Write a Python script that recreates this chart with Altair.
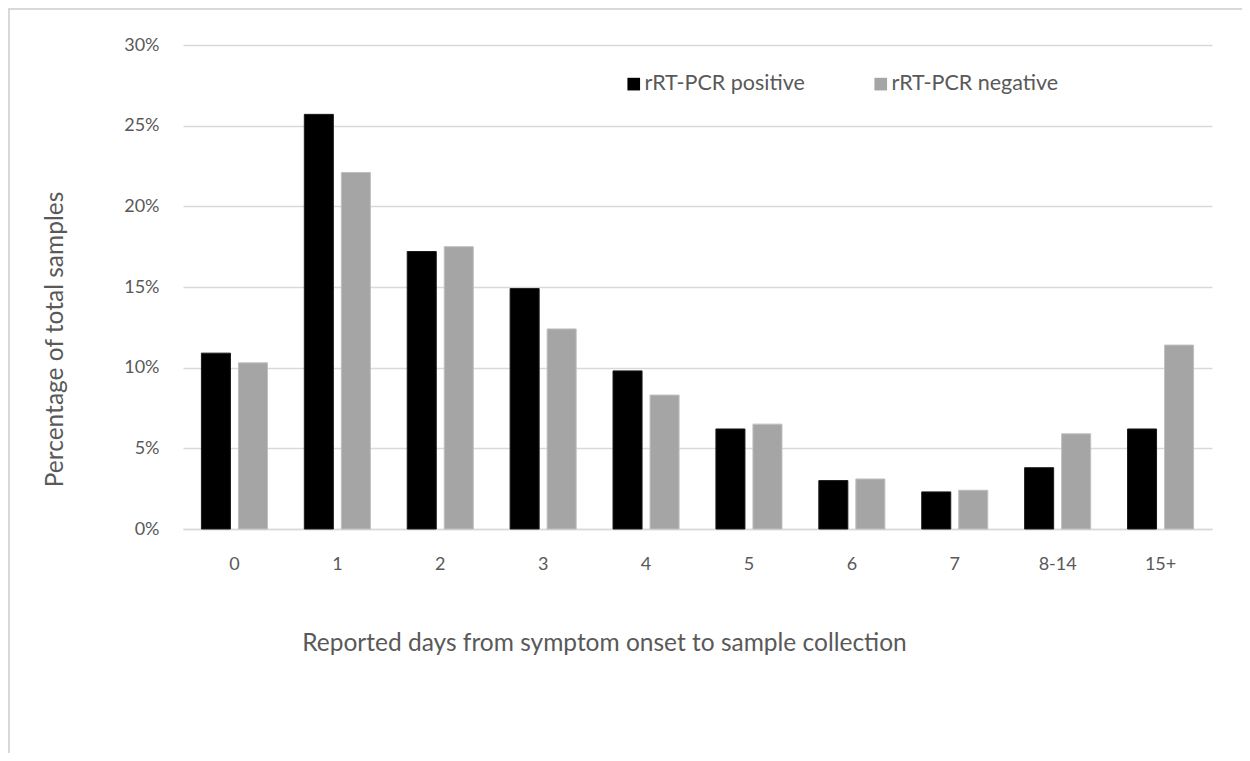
import altair as alt
import pandas as pd

categories = ["0", "1", "2", "3", "4", "5", "6", "7", "8-14", "15+"]
positive = [10.9, 25.7, 17.2, 14.9, 9.8, 6.2, 3.0, 2.3, 3.8, 6.2]
negative = [10.3, 22.1, 17.5, 12.4, 8.3, 6.5, 3.1, 2.4, 5.9, 11.4]
series = ["rRT-PCR positive", "rRT-PCR negative"]
colors = ["#000000", "#A5A5A5"]

rows = []
for c, p, n in zip(categories, positive, negative):
    rows.append({"day": c, "series": series[0], "value": p / 100})
    rows.append({"day": c, "series": series[1], "value": n / 100})
df = pd.DataFrame(rows)

FONT = "Lato"
TXT = "#595959"

bars = alt.Chart(df).mark_bar(strokeWidth=1).encode(
    x=alt.X("day:N", sort=categories,
            scale=alt.Scale(paddingInner=0.358, paddingOuter=0.179),
            axis=alt.Axis(title="Reported days from symptom onset to sample collection",
                          labelAngle=0, ticks=False, domain=True, domainColor="#D9D9D9",
                          domainWidth=1.5, labelPadding=26,
                          titleX=421, titleY=114, titleAlign="center", titleBaseline="middle",
                          labelFontSize=18, titleFontSize=24.5,
                          labelColor=TXT, titleColor=TXT, labelFont=FONT, titleFont=FONT,
                          titleFontWeight="normal")),
    xOffset=alt.XOffset("series:N", sort=series,
                        scale=alt.Scale(paddingInner=0.216, paddingOuter=0)),
    y=alt.Y("value:Q", scale=alt.Scale(domain=[0, 0.3]),
            axis=alt.Axis(title="Percentage of total samples", format=".0%",
                          values=[0, 0.05, 0.1, 0.15, 0.2, 0.25, 0.3],
                          ticks=False, domain=False, gridColor="#D9D9D9", gridWidth=1.5,
                          labelPadding=24,
                          titleX=-128, titleY=294, titleAngle=270, titleAlign="center",
                          titleBaseline="middle",
                          labelFontSize=18, titleFontSize=24.5,
                          labelColor=TXT, titleColor=TXT, labelFont=FONT, titleFont=FONT,
                          titleFontWeight="normal")),
    color=alt.Color("series:N", sort=series,
                    scale=alt.Scale(domain=series, range=colors),
                    legend=alt.Legend(title=None, orient="none", legendX=440, legendY=28,
                                      direction="horizontal", symbolType="square",
                                      symbolSize=160, symbolStrokeWidth=0,
                                      labelFontSize=21.5, labelColor=TXT, labelFont=FONT,
                                      columnPadding=65, labelOffset=0, labelLimit=400)),
    stroke=alt.Stroke("series:N", sort=series,
                      scale=alt.Scale(domain=series, range=["#1a1a1a", "#BFBFBF"]),
                      legend=None),
)

frame = alt.Chart(df).mark_rule(color="#D9D9D9", strokeWidth=1.5).encode(
    x=alt.value(-175), x2=alt.value(1060), y=alt.value(-36)
)
frame2 = alt.Chart(df).mark_rule(color="#D9D9D9", strokeWidth=1.5).encode(
    x=alt.value(-174), y=alt.value(-37), y2=alt.value(708)
)

chart = alt.layer(bars, frame, frame2).properties(
    width=1029, height=484,
    autosize=alt.AutoSizeParams(type="none"),
    padding={"left": 175, "top": 37, "right": 30, "bottom": 224},
).configure(background="white").configure_view(stroke=None)

chart.save("out.html", embed_options={"renderer": "svg", "actions": False})
